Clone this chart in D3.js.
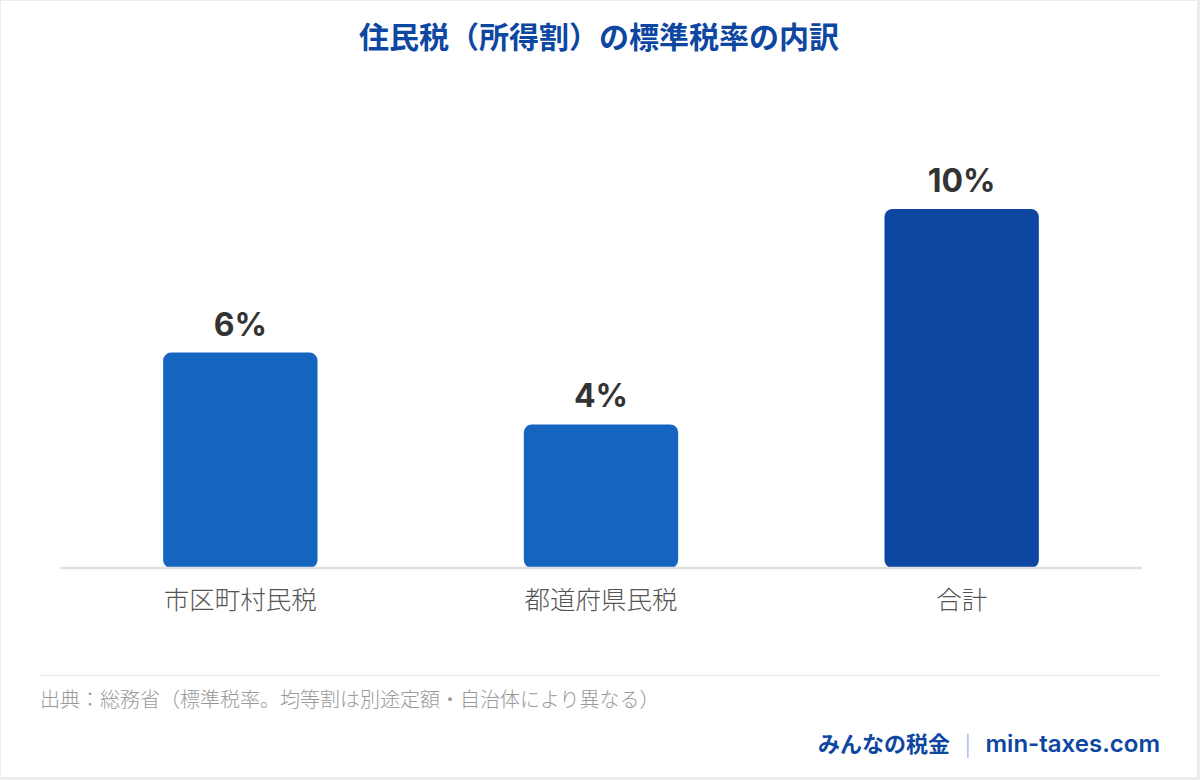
<!DOCTYPE html>
<html>
<head>
<meta charset="utf-8">
<script src="https://cdn.jsdelivr.net/npm/d3@7"></script>
<style>
    html, body { margin: 0; padding: 0; background: #ececec; }
    svg { display: block; position: absolute; left: 1px; top: 1px; background: #fff; }
    text { font-family: "Noto Sans CJK JP", "Noto Sans", sans-serif; }
</style>
</head>
<body>
<svg id="chart"></svg>
<script>
const categories = ["市区町村民税", "都道府県民税", "合計"];
const rates = [6, 4, 10];
const valueLabels = ["6%", "4%", "10%"];
const barColors = ["#1565C0", "#1565C0", "#0D47A1"];

const titleText = "住民税（所得割）の標準税率の内訳";
const sourceText = "出典：総務省（標準税率。均等割は別途定額・自治体により異なる）";
const brandText = "みんなの税金";
const siteText = "min-taxes.com";

const width = 1196;
const height = 776;
const margin = {top: 208, right: 55, bottom: 209, left: 59};

const svg = d3.select("#chart")
    .attr("width", width)
    .attr("height", height);

const xScale = d3.scaleBand()
    .domain(categories)
    .range([margin.left, width - margin.right])
    .paddingInner(0.572)
    .paddingOuter(0.286);

const yScale = d3.scaleLinear()
    .domain([0, d3.max(rates)])
    .range([height - margin.bottom, margin.top]);

// title
svg.append("text")
    .attr("x", width / 2)
    .attr("y", 47)
    .attr("text-anchor", "middle")
    .style("font-size", "30px")
    .style("font-weight", 700)
    .style("fill", "#0D47A1")
    .text(titleText);

// bars
svg.selectAll(".bar")
    .data(rates)
    .join("rect")
    .attr("class", "bar")
    .attr("x", (d, i) => xScale(categories[i]))
    .attr("y", d => yScale(d))
    .attr("width", xScale.bandwidth())
    .attr("height", d => yScale(0) - yScale(d))
    .attr("rx", 8)
    .attr("ry", 8)
    .style("fill", (d, i) => barColors[i]);

// baseline
svg.append("line")
    .attr("x1", margin.left)
    .attr("x2", width - margin.right)
    .attr("y1", yScale(0))
    .attr("y2", yScale(0))
    .style("stroke", "#e0e0e0")
    .style("stroke-width", 2.5);

// value labels
svg.selectAll(".value-label")
    .data(rates)
    .join("text")
    .attr("class", "value-label")
    .attr("x", (d, i) => xScale(categories[i]) + xScale.bandwidth() / 2)
    .attr("y", d => yScale(d) - 17)
    .attr("text-anchor", "middle")
    .style("font-family", "Inter, sans-serif")
    .style("font-size", "32px")
    .style("font-weight", 700)
    .style("fill", "#333")
    .text((d, i) => valueLabels[i]);

// x axis labels
const xAxis = (g) =>
    g.call(d3.axisBottom(xScale).tickSize(0).tickPadding(0))
        .call(g => g.select(".domain").remove())
        .call(g => g.selectAll("text")
            .attr("dy", "0")
            .attr("y", 41)
            .style("font-family", "'Noto Sans CJK JP', sans-serif")
            .style("font-size", "25.5px")
            .style("font-weight", 300)
            .style("fill", "#555"));

svg.append("g")
    .attr("transform", `translate(0,${yScale(0)})`)
    .call(xAxis);

// footer separator
svg.append("line")
    .attr("x1", 39)
    .attr("x2", 1160)
    .attr("y1", 674.5)
    .attr("y2", 674.5)
    .style("stroke", "#ececec")
    .style("stroke-width", 1.5);

svg.append("text")
    .attr("x", 39)
    .attr("y", 706)
    .style("font-size", "20px")
    .style("font-weight", 300)
    .style("fill", "#999")
    .text(sourceText);

const footer = svg.append("text")
    .attr("x", 1159)
    .attr("y", 751)
    .attr("text-anchor", "end")
    .style("font-size", "22px")
    .style("fill", "#0D47A1");

footer.append("tspan")
    .style("font-weight", 700)
    .text(brandText);
footer.append("tspan")
    .attr("dx", 15)
    .style("fill", "#8aa6d6")
    .style("font-weight", 300)
    .text("|");
footer.append("tspan")
    .attr("dx", 15)
    .style("font-family", "Inter, sans-serif")
    .style("font-size", "24px")
    .style("font-weight", 600)
    .text(siteText);
</script>
</body>
</html>
